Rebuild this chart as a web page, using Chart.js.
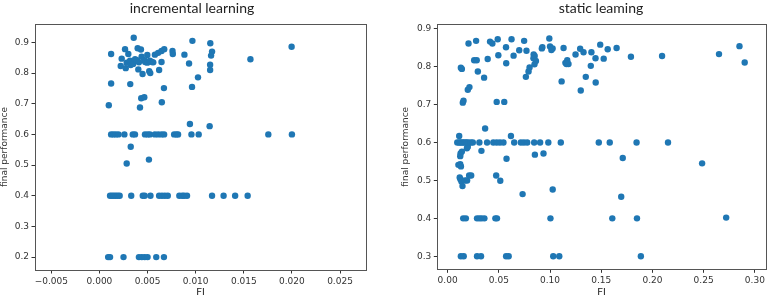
<!DOCTYPE html>
<html>
<head>
<meta charset="utf-8">
<script src="https://cdn.jsdelivr.net/npm/chart.js@4.4.1/dist/chart.umd.min.js"></script>
<style>
    html, body { margin: 0; padding: 0; background: #fff; }
    #wrap { position: relative; width: 769px; height: 297px; overflow: hidden; }
    canvas { position: absolute; top: 0; }
    #incChart { left: 0; }
    #statChart { left: 384px; }
</style>
</head>
<body>
<div id="wrap">
    <canvas id="incChart" width="384" height="297"></canvas>
    <canvas id="statChart" width="385" height="297"></canvas>
</div>
<script>
// incremental learning: scattered points [FI, final performance]
var incScatter = [
    [0.00356, 0.915], [0.00121, 0.862], [0.00266, 0.878], [0.00397, 0.881], [0.00431, 0.877],
    [0.00300, 0.862], [0.00497, 0.859], [0.00576, 0.860], [0.00610, 0.866], [0.00645, 0.872],
    [0.00673, 0.878], [0.00759, 0.872], [0.00762, 0.862], [0.00883, 0.860], [0.00966, 0.905],
    [0.01152, 0.897], [0.01170, 0.870], [0.01160, 0.857], [0.01997, 0.886], [0.01569, 0.845],
    [0.00231, 0.847], [0.00221, 0.823], [0.00283, 0.834], [0.00273, 0.816], [0.00318, 0.840],
    [0.00325, 0.826], [0.00350, 0.830], [0.00370, 0.845], [0.00390, 0.842], [0.00410, 0.835],
    [0.00438, 0.853], [0.00466, 0.842], [0.00475, 0.836], [0.00497, 0.834], [0.00524, 0.840],
    [0.00545, 0.836], [0.00559, 0.835], [0.00404, 0.812], [0.00448, 0.797], [0.00517, 0.806],
    [0.00528, 0.800], [0.00620, 0.810], [0.00645, 0.836], [0.00931, 0.831], [0.01150, 0.827],
    [0.01150, 0.810], [0.01024, 0.786], [0.00121, 0.766], [0.00320, 0.764], [0.00670, 0.751],
    [0.00962, 0.755], [0.00097, 0.695], [0.00434, 0.718], [0.00466, 0.721], [0.00421, 0.688],
    [0.00648, 0.705], [0.00940, 0.634], [0.01145, 0.627], [0.00325, 0.560], [0.00283, 0.505],
    [0.00514, 0.518]
];
// incremental learning: FI values of the points sitting exactly on 0.6 / 0.4 / 0.2
var incAt060 = [0.00121, 0.00145, 0.00170, 0.00197, 0.00259, 0.00346, 0.00369, 0.00473, 0.00501,
    0.00524, 0.00576, 0.00610, 0.00645, 0.00672, 0.00776, 0.00800, 0.00817, 0.00956, 0.01031,
    0.01755, 0.02000];
var incAt040 = [0.0011, 0.0013, 0.0015, 0.0017, 0.0019, 0.0021, 0.0033, 0.0045, 0.0047, 0.0053,
    0.0062, 0.0065, 0.0068, 0.0071, 0.0083, 0.0086, 0.0088, 0.0091, 0.0117, 0.0129, 0.0141, 0.0154];
var incAt020 = [0.0009, 0.0011, 0.0025, 0.0041, 0.0044, 0.0047, 0.0050, 0.0059, 0.0067];

// static learning
var statScatter = [
    [0.0129, 0.797], [0.0139, 0.794], [0.0204, 0.861], [0.0278, 0.868], [0.0259, 0.817],
    [0.0284, 0.817], [0.0295, 0.787], [0.0356, 0.771], [0.0197, 0.739], [0.0213, 0.746],
    [0.0148, 0.705], [0.0155, 0.710], [0.0391, 0.820], [0.0414, 0.866], [0.0437, 0.861],
    [0.0489, 0.872], [0.0495, 0.830], [0.0479, 0.707], [0.0553, 0.707], [0.0570, 0.851],
    [0.0572, 0.809], [0.0624, 0.872], [0.0644, 0.829], [0.0699, 0.843], [0.0747, 0.868],
    [0.0770, 0.842], [0.0764, 0.773], [0.0790, 0.787], [0.0800, 0.798], [0.0840, 0.832],
    [0.0850, 0.828], [0.0838, 0.822], [0.0862, 0.815], [0.0848, 0.806], [0.0920, 0.848],
    [0.0925, 0.851], [0.0993, 0.874], [0.1000, 0.853], [0.1013, 0.844], [0.1025, 0.848],
    [0.1113, 0.761], [0.1132, 0.849], [0.1150, 0.810], [0.1168, 0.817], [0.1180, 0.807],
    [0.1160, 0.807], [0.1249, 0.832], [0.1294, 0.847], [0.1327, 0.838], [0.1300, 0.737],
    [0.1349, 0.773], [0.1404, 0.838], [0.1398, 0.802], [0.1444, 0.822], [0.1446, 0.758],
    [0.1490, 0.858], [0.1524, 0.821], [0.1563, 0.846], [0.1650, 0.849], [0.1790, 0.826],
    [0.2094, 0.828], [0.2650, 0.833], [0.2850, 0.854], [0.2901, 0.811],
    [0.0113, 0.617], [0.0366, 0.637], [0.0618, 0.617], [0.0188, 0.585], [0.0197, 0.589],
    [0.0330, 0.578], [0.0126, 0.571], [0.0123, 0.564], [0.0139, 0.576], [0.0852, 0.568],
    [0.0936, 0.571], [0.0575, 0.557], [0.1710, 0.559], [0.0123, 0.543], [0.0130, 0.537],
    [0.0105, 0.541], [0.0118, 0.508], [0.0125, 0.503], [0.0135, 0.497], [0.0170, 0.500],
    [0.0190, 0.500], [0.0210, 0.513], [0.0230, 0.513], [0.0145, 0.485], [0.0474, 0.513],
    [0.0514, 0.499], [0.0732, 0.464], [0.1026, 0.476], [0.1695, 0.457], [0.2485, 0.545],
    [0.2720, 0.402]
];
var statAt060 = [0.0094, 0.0112, 0.0125, 0.0140, 0.0155, 0.0170, 0.0185, 0.0200, 0.0226, 0.0246,
    0.0310, 0.0385, 0.0446, 0.0479, 0.0511, 0.0545, 0.0650, 0.0715, 0.0745, 0.0777, 0.0845,
    0.0903, 0.0983, 0.1105, 0.1476, 0.1583, 0.1845, 0.2152];
var statAt040 = [0.0152, 0.0178, 0.0287, 0.0310, 0.0332, 0.0359, 0.0466, 0.0482, 0.1004, 0.1608, 0.1849];
var statAt030 = [0.0129, 0.0157, 0.0287, 0.0326, 0.0571, 0.0596, 0.1031, 0.1090, 0.1887];

// tick labels
var incXTicks = [-0.005, 0, 0.005, 0.010, 0.015, 0.020, 0.025];
var incYTicks = [0.2, 0.3, 0.4, 0.5, 0.6, 0.7, 0.8, 0.9];
var statXTicks = [0, 0.05, 0.10, 0.15, 0.20, 0.25, 0.30];
var statYTicks = [0.3, 0.4, 0.5, 0.6, 0.7, 0.8, 0.9];

function toPoints(scatter, rows) {
    var pts = scatter.map(function (p) { return { x: p[0], y: p[1] }; });
    rows.forEach(function (row) {
        row.xs.forEach(function (x) { pts.push({ x: x, y: row.y }); });
    });
    return pts;
}

function fmt(v, digits) {
    var s = Math.abs(v).toFixed(digits);
    return v < -1e-12 ? '\u2212' + s : s;
}

// axes frame + figure title
var frameTitle = {
    id: 'frameTitle',
    afterDraw: function (chart, args, opts) {
        var ctx = chart.ctx, a = chart.chartArea;
        ctx.save();
        ctx.strokeStyle = '#555';
        ctx.lineWidth = 1;
        ctx.strokeRect(Math.round(a.left) + 0.5, Math.round(a.top) + 0.5,
            Math.round(a.right - a.left), Math.round(a.bottom - a.top));
        ctx.fillStyle = '#222';
        ctx.font = '14px Lato';
        ctx.textAlign = 'center';
        ctx.textBaseline = 'middle';
        ctx.fillText(opts.text, opts.x, opts.y);
        ctx.restore();
    }
};

function makeChart(id, o) {
    var tickFont = { family: 'DejaVu Sans', size: 9 };
    return new Chart(document.getElementById(id), {
        type: 'scatter',
        data: {
            datasets: [{
                data: o.points,
                backgroundColor: '#1f77b4',
                borderWidth: 0,
                pointRadius: 3.2,
                pointHoverRadius: 3.2
            }]
        },
        options: {
            responsive: false,
            animation: false,
            events: [],
            layout: { padding: o.padding },
            plugins: {
                legend: { display: false },
                tooltip: { enabled: false },
                frameTitle: { text: o.title, x: o.titleX, y: 8 }
            },
            scales: {
                x: {
                    type: 'linear',
                    min: o.xMin, max: o.xMax,
                    afterBuildTicks: function (s) { s.ticks = o.xTicks.map(function (v) { return { value: v }; }); },
                    afterFit: function (s) { s.height = o.xH; },
                    grid: { drawOnChartArea: false, tickLength: 3.5, tickColor: '#333' },
                    border: { display: false },
                    ticks: {
                        font: tickFont, color: '#333', padding: 2.5, maxRotation: 0, autoSkip: false,
                        callback: function (v) { return fmt(v, o.xDigits); }
                    },
                    title: { display: true, text: 'FI', color: '#222', font: { family: 'Lato', size: 10, lineHeight: 1 }, padding: 0 }
                },
                y: {
                    type: 'linear',
                    min: o.yMin, max: o.yMax,
                    afterBuildTicks: function (s) { s.ticks = o.yTicks.map(function (v) { return { value: v }; }); },
                    afterFit: function (s) { s.width = o.yW; },
                    grid: { drawOnChartArea: false, tickLength: 3.5, tickColor: '#333' },
                    border: { display: false },
                    ticks: {
                        font: tickFont, color: '#333', padding: 2.5, autoSkip: false,
                        callback: function (v) { return fmt(v, 1); }
                    },
                    title: { display: true, text: 'final performance', color: '#333', font: { family: 'DejaVu Sans', size: 9, lineHeight: 1 }, padding: 0 }
                }
            }
        },
        plugins: [frameTitle]
    });
}

makeChart('incChart', {
    points: toPoints(incScatter, [{ y: 0.6, xs: incAt060 }, { y: 0.4, xs: incAt040 }, { y: 0.2, xs: incAt020 }]),
    title: 'incremental learning', titleX: 192,
    xMin: -0.0067, xMax: 0.0277, yMin: 0.158, yMax: 0.96,
    xTicks: incXTicks, yTicks: incYTicks, xDigits: 3,
    padding: { left: 0, right: 18, top: 24, bottom: 0 }, yW: 35, xH: 27
});

makeChart('statChart', {
    points: toPoints(statScatter, [{ y: 0.6, xs: statAt060 }, { y: 0.4, xs: statAt040 }, { y: 0.3, xs: statAt030 }]),
    title: 'static leaming', titleX: 217,
    xMin: -0.0101, xMax: 0.3107, yMin: 0.2657, yMax: 0.9116,
    xTicks: statXTicks, yTicks: statYTicks, xDigits: 2,
    padding: { left: 17, right: 1.3, top: 24.3, bottom: 0 }, yW: 36.3, xH: 27.7
});
</script>
</body>
</html>
